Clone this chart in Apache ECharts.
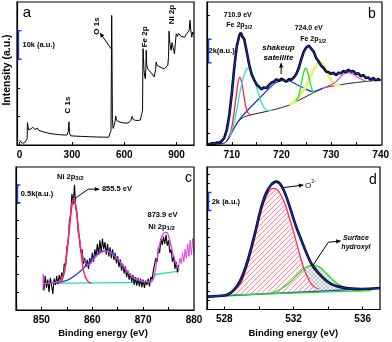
<!DOCTYPE html>
<html><head><meta charset="utf-8">
<script src="https://cdn.jsdelivr.net/npm/echarts@6/dist/echarts.min.js"></script>
<style>html,body{margin:0;padding:0;background:#fff}#c{width:392px;height:342px}</style>
</head><body><div id="c"></div>
<script>
// ---------- Panel a: survey spectrum [binding energy eV, counts (k)] ----------
const surveyCounts = [[0,1.7],[6,1.8],[10,1.3],[15,0.6],[22,0.7],[30,0.9],[38,1.2],[43,2.2],[45,7.8],[48,6.4],[52,5.3],[58,5.0],[64,5.6],[70,5.4],[76,6.2],[80,5.6],[88,5.4],[96,5.5],[102,5.9],[108,5.2],[118,5.0],[135,4.6],[155,4.3],[175,4.0],[200,3.8],[230,3.6],[255,3.5],[272,3.5],[279,4.8],[283,8.1],[286,4.3],[292,3.2],[320,3.1],[360,3.0],[400,2.9],[440,2.8],[480,2.75],[510,2.7],[520,2.8],[524,5.0],[526,25],[528,45.3],[530,30],[532,9],[536,5.8],[542,6.8],[548,8.5],[551,10.1],[556,8.6],[565,8.1],[575,8.0],[590,7.8],[610,7.6],[628,7.9],[638,8.6],[645,10.0],[652,8.9],[665,8.6],[680,8.6],[692,8.7],[700,9.2],[705,12],[707,30],[708,33.7],[710,31],[713,26.5],[717,24.0],[721,23.2],[724,27],[726,33.1],[729,28],[735,26.6],[745,26.1],[755,25.2],[764,24.7],[772,23.8],[777,23.6],[780,26.5],[783,29.0],[788,27.8],[795,27.4],[805,27.3],[817,26.9],[831,26.7],[842,27.3],[850,27.9],[854,31],[857,39.8],[859,37],[863,35.0],[869,33.1],[874,35.8],[879,35.4],[884,33.0],[888,31.9],[893,35.5],[898,38.9],[905,38.0],[912,39.0],[917,39.5],[925,38.0],[935,37.5],[946,37.7],[955,38.6],[965,38.3],[972,40.0],[977,43.6],[981,40.5],[987,37.7],[993,39.5],[1000,38.8]];
const surveyTickValues = [0,300,600,900];
const surveyYTicks = [10,20,30,40];

// ---------- Panel b: Fe 2p ----------
const feData = [[705.0,0.10],[705.5,0.05],[706.0,0.15],[706.5,0.12],[707.0,0.20],[707.5,0.18],[708.0,0.35],[708.5,0.62],[709.0,1.30],[709.5,2.55],[710.0,4.40],[710.5,6.60],[711.0,8.40],[711.5,9.30],[711.8,9.55],[712.1,9.25],[712.5,9.00],[713.0,7.95],[713.5,6.85],[714.0,6.00],[714.5,5.55],[715.0,5.15],[715.5,4.95],[716.0,4.75],[716.5,4.90],[717.0,4.85],[717.5,5.10],[718.0,5.30],[718.5,5.40],[719.0,5.60],[719.5,5.45],[720.0,5.65],[720.5,5.50],[721.0,5.40],[721.5,5.60],[722.0,5.55],[722.5,5.75],[723.0,6.05],[723.5,6.55],[724.0,7.30],[724.5,7.95],[725.0,8.30],[725.5,8.45],[726.0,8.20],[726.5,7.95],[727.0,7.40],[727.5,7.10],[728.0,6.75],[728.5,6.55],[729.0,6.25],[729.5,6.20],[730.0,6.05],[730.5,6.15],[731.0,5.95],[731.5,6.15],[732.0,6.10],[732.5,6.30],[733.0,6.20],[733.5,6.40],[734.0,6.25],[734.5,6.30],[735.0,6.05],[735.5,6.10],[736.0,5.85],[736.5,5.95],[737.0,5.70],[737.5,5.75],[738.0,5.55],[738.5,5.70],[739.0,5.50],[739.5,5.60],[740.0,5.50]];
const feEnvelope = [[705,0.08],[705.3,0.085],[706.5,0.12],[707.6,0.2],[708.6,0.71],[709.27,1.84],[709.93,4.11],[710.6,6.95],[711.27,8.94],[711.93,9.42],[712.6,8.79],[713.27,7.38],[713.93,6.1],[714.93,5.25],[715.93,4.82],[716.93,4.91],[717.93,5.25],[718.93,5.53],[719.93,5.53],[720.93,5.47],[721.93,5.53],[722.93,5.96],[723.6,6.67],[724.27,7.66],[724.93,8.23],[725.47,8.37],[726.27,8.09],[726.93,7.52],[727.93,6.81],[728.93,6.33],[729.93,6.1],[730.93,6.04],[732.27,6.16],[733.6,6.3],[734.93,6.16],[736.27,5.87],[737.6,5.67],[738.93,5.59],[740,5.53]];
const feBackground = [[705,0.05],[707,0.08],[708.27,0.14],[708.93,0.28],[709.6,0.71],[710.27,1.28],[710.93,1.79],[711.6,2.13],[712.6,2.41],[714.27,2.61],[718.27,2.98],[721.6,3.4],[723.6,3.83],[726.27,4.4],[728.27,4.82],[731.6,5.11],[734.93,5.31],[740,5.53]];
const feRed = [[709.3,0.6],[709.9,1.3],[710.4,2.6],[710.9,4.2],[711.3,5.4],[711.6,5.76],[712.0,5.3],[712.4,4.3],[712.8,3.3],[713.3,2.7],[713.9,2.55]];
const feCyan = [[709.6,0.71],[710.3,1.6],[711.0,3.0],[711.6,4.4],[712.3,5.7],[712.9,6.4],[713.3,6.53],[713.9,6.3],[714.6,5.5],[715.3,4.5],[716.0,3.6],[716.9,3.0],[718.0,2.95]];
const feSatellite = [[708.9,0.28],[710.3,1.3],[711.6,2.2],[713.3,3.0],[714.9,3.7],[716.3,4.3],[717.6,4.85],[718.9,5.3],[720.3,5.5],[721.6,5.45],[723.0,5.15],[724.5,4.85],[726.3,4.55],[728.3,4.82]];
const feGreen = [[722.9,3.75],[723.5,4.2],[724.0,5.2],[724.5,6.2],[724.9,6.53],[725.3,6.2],[725.8,5.3],[726.3,4.6],[726.9,4.45]];
const feYellow = [[721.6,3.4],[722.9,3.8],[723.9,4.3],[724.9,5.0],[725.9,5.9],[726.9,6.7],[727.6,7.09],[728.3,6.9],[729.0,6.3],[729.9,5.6],[730.9,5.1],[731.9,5.1]];
const feMagenta = [[728.3,4.82],[729.6,5.05],[730.9,5.35],[732.3,5.95],[733.3,6.16],[734.3,6.05],[735.6,5.7],[736.9,5.45]];
const feTickValues = [705,710,715,720,725,730,735];
const feLabelValues = [710,720,730,740];
const feYTicks = [1,3,5,7,9,11];

// ---------- Panel c: Ni 2p ----------
const niData = [[850.50,0.55],[850.75,0.95],[851.00,0.62],[851.25,0.85],[851.50,0.50],[851.75,0.90],[852.00,0.68],[852.25,0.45],[852.50,0.88],[852.75,0.70],[853.00,0.95],[853.25,0.72],[853.50,0.98],[853.75,0.80],[854.00,1.05],[854.25,0.92],[854.50,1.30],[854.75,1.22],[855.00,1.75],[855.25,1.90],[855.50,2.50],[855.75,2.70],[856.00,3.25],[856.25,2.95],[856.50,3.50],[856.75,2.85],[857.00,2.70],[857.25,2.15],[857.50,2.00],[857.75,1.60],[858.00,1.70],[858.25,1.30],[858.50,1.45],[858.75,1.20],[859.00,1.40],[859.25,1.15],[859.50,1.45],[859.75,1.30],[860.00,1.60],[860.25,1.35],[860.50,1.70],[860.75,1.50],[861.00,1.85],[861.25,1.55],[861.50,1.95],[861.75,1.60],[862.00,2.00],[862.25,1.70],[862.50,1.90],[862.75,1.55],[863.00,1.85],[863.25,1.50],[863.50,1.75],[863.75,1.45],[864.00,1.70],[864.25,1.40],[864.50,1.60],[864.75,1.30],[865.00,1.50],[865.25,1.20],[865.50,1.42],[865.75,1.10],[866.00,1.30],[866.25,1.02],[866.50,1.22],[866.75,0.92],[867.00,1.10],[867.25,0.85],[867.50,1.02],[867.75,0.78],[868.00,0.98],[868.25,0.70],[868.50,0.92],[868.75,0.68],[869.00,0.90],[869.25,0.66],[869.50,0.88],[869.75,0.64],[870.00,0.85],[870.25,0.62],[870.50,0.82],[870.75,0.70],[871.00,0.88],[871.25,0.66],[871.50,0.92],[871.75,0.85],[872.00,1.10],[872.25,1.05],[872.50,1.45],[872.75,1.35],[873.00,1.75],[873.25,1.60],[873.50,2.00],[873.75,1.82],[874.00,2.05],[874.25,1.85],[874.50,2.10],[874.75,1.80],[875.00,1.95],[875.25,1.60],[875.50,1.70],[875.75,1.35],[876.00,1.50],[876.25,1.15],[876.50,1.35],[876.75,1.05],[877.00,1.25]];
const niTailLeft = [[850.3,0.55],[850.35,1.0],[850.4,0.6],[850.45,0.95],[850.5,0.75]];
const niTailRight = [[877.0,1.25],[877.25,1.45],[877.5,1.3],[877.75,1.6],[878.0,1.35],[878.25,1.7],[878.5,1.45],[878.75,1.85],[879.0,1.5],[879.25,1.95],[879.5,1.55],[879.75,2.0],[880.0,1.6]];
const niEnvelope = [[850.47,0.745],[851.8,0.745],[853.13,0.79],[853.8,0.838],[854.47,1.07],[855.0,1.63],[855.47,2.28],[855.93,2.89],[856.33,3.12],[856.8,2.89],[857.27,2.28],[857.8,1.68],[858.47,1.35],[859.27,1.26],[860.13,1.40],[861.13,1.55],[862.13,1.63],[862.8,1.65],[863.8,1.58],[865.13,1.40],[866.47,1.16],[867.8,0.93],[869.13,0.838],[870.47,0.79],[871.47,0.79],[872.13,0.93],[872.8,1.49],[873.47,1.96],[874.13,2.16],[874.6,2.17],[875.13,2.0],[875.8,1.61],[876.47,1.30],[877.13,1.12]];
const niRed = [[853.8,0.745],[854.47,1.02],[855.0,1.58],[855.47,2.23],[855.93,2.84],[856.33,3.07],[856.8,2.84],[857.27,2.23],[857.8,1.58],[858.33,1.07],[859.0,0.82],[859.8,0.745]];
const niSatellite = [[851.8,0.745],[855.13,0.838],[857.13,1.02],[859.13,1.30],[860.8,1.55],[862.13,1.65],[863.13,1.65],[864.47,1.52],[865.8,1.27],[867.13,1.02],[868.47,0.87],[870.13,0.77]];
const niBaseline = [[850.47,0.745],[871.47,0.77],[872.47,0.996],[877.13,1.09]];
const niTickValues = [850,855,860,865,870,875];
const niLabelValues = [850,860,870,880];
const niYTicks = [0.5,1,1.5,2,2.5,3,3.5];

// ---------- Panel d: O 1s ----------
const oEnvelope = [[527,1.42],[527.08,1.43],[528.12,1.61],[528.5,2.06],[528.89,3.1],[529.27,4.94],[529.55,6.8],[529.84,9.02],[530.12,11.24],[530.41,12.9],[530.7,13.83],[531.02,14.2],[531.27,13.83],[531.55,12.72],[531.84,11.06],[532.12,9.39],[532.41,7.91],[532.7,6.5],[533.08,4.94],[533.46,4.02],[533.84,3.28],[534.22,2.8],[534.6,2.54],[535.17,2.35],[535.93,2.28],[537,2.38]];
const oLattice = [[528.31,1.69],[528.89,2.72],[529.27,4.57],[529.55,6.43],[529.84,8.65],[530.12,10.87],[530.41,12.54],[530.7,13.39],[530.89,13.46],[531.13,13.17],[531.46,11.98],[531.74,10.31],[532.03,8.46],[532.31,6.43],[532.6,4.57],[532.89,3.28],[533.17,2.54],[533.46,2.28]];
const oHydroxyl = [[530.6,1.78],[531.17,2.17],[531.74,2.91],[532.31,4.02],[532.7,4.65],[533.08,4.94],[533.46,4.76],[533.84,4.13],[534.22,3.39],[534.6,2.8],[535.08,2.35],[535.55,2.13],[535.93,2.06]];
const oBackgroundBlue = [[527,1.42],[537,2.38]];
const oBackgroundGreen = [[528.2,1.6],[536.5,2.1]];
const oTickValues = [528,530,532,534,536];
const oLabelValues = [528,532,536];
const oYTicks = [1,2,3,4,5,6,7,8,9,10,11,12,13,14,15];

// ---------- layout ----------
const FAM = '"Liberation Sans", Arial, sans-serif';
const G = [
  {left:17, top:2, width:177, height:143},
  {left:207, top:2, width:175, height:143},
  {left:16, top:167, width:178, height:143},
  {left:207, top:167, width:173, height:142.5}
];
const xRanges = [[-15,1000],[705,740],[845,880],[527,537]];
const yRanges = [[0,50],[0,12.17],[0,4],[0,15.83]];
const xTicks = [surveyTickValues, feTickValues, niTickValues, oTickValues];
const xLabels = [surveyTickValues, feLabelValues, niLabelValues, oLabelValues];
const yTicks = [surveyYTicks, feYTicks, niYTicks, oYTicks];

function pattern(size, bg, stroke, lw, cross) {
  const c = document.createElement('canvas'); c.width = c.height = size;
  const x = c.getContext('2d');
  x.fillStyle = bg; x.fillRect(0,0,size,size);
  x.strokeStyle = stroke; x.lineWidth = lw;
  x.beginPath();
  x.moveTo(0,size); x.lineTo(size,0);
  x.moveTo(-size/2,size/2); x.lineTo(size/2,-size/2);
  x.moveTo(size/2,size*1.5); x.lineTo(size*1.5,size/2);
  if (cross) {
    x.moveTo(0,0); x.lineTo(size,size);
    x.moveTo(-size/2,size/2); x.lineTo(size/2,size*1.5);
    x.moveTo(size/2,-size/2); x.lineTo(size*1.5,size/2);
  }
  x.stroke();
  return c;
}
const redPat = pattern(5, '#fff8f9', '#ff7a92', 0.9, false);
const greyPat = pattern(4, '#f2f5f5', '#9fb1b0', 0.7, true);

const xAxis = G.map((g,i) => ({
  type:'value', gridIndex:i, min:xRanges[i][0], max:xRanges[i][1], z:5,
  axisLine:{show:true, onZero:false, lineStyle:{color:'#000', width:1.2}},
  axisTick:{show:true, inside:true, length:3, customValues:xTicks[i], lineStyle:{color:'#000', width:1}},
  axisLabel:{show:true, customValues:xLabels[i], margin:5, color:'#000', fontSize:10, fontWeight:'bold', fontFamily:FAM, showMinLabel:true, showMaxLabel:true},
  splitLine:{show:false}
}));
const yAxis = G.map((g,i) => ({
  type:'value', gridIndex:i, min:yRanges[i][0], max:yRanges[i][1], z:5,
  axisLine:{show:true, onZero:false, lineStyle:{color:'#000', width:1.2}},
  axisTick:{show:true, inside:true, length:3, customValues:yTicks[i], lineStyle:{color:'#000', width:1}},
  axisLabel:{show:false},
  splitLine:{show:false}
}));

function ln(g, data, color, width, extra) {
  return Object.assign({
    type:'line', xAxisIndex:g, yAxisIndex:g, data:data, symbol:'none', showSymbol:false,
    lineStyle:{color:color, width:width}, itemStyle:{color:color}, silent:true, animation:false
  }, extra || {});
}
const S = {smooth:0.35};

const series = [
  // a
  ln(0, surveyCounts, '#000', 1),
  // b
  ln(1, feBackground, '#222', 1, S),
  ln(1, feSatellite, '#2233c8', 1.2, S),
  ln(1, feYellow, '#e9f27e', 3, S),
  ln(1, feMagenta, '#e040e0', 1.2, S),
  ln(1, feRed, '#ff2050', 1.3, S),
  ln(1, feCyan, '#28e6c4', 1.3, S),
  ln(1, feGreen, '#22e022', 1.3, S),
  ln(1, feData, '#000', 2.6),
  ln(1, feEnvelope, '#1a2bb0', 1.2, S),
  // c
  ln(2, niBaseline, '#22e0a8', 1.3),
  ln(2, niTailLeft, '#e040e0', 1),
  ln(2, niTailRight, '#e040e0', 1),
  ln(2, niData, '#000', 1.1),
  ln(2, niSatellite, '#2a40d8', 1.3, S),
  ln(2, niEnvelope, '#e040e0', 1.3, S),
  ln(2, niRed, '#ff2050', 1.3, S),
  // d
  ln(3, oHydroxyl, '#22e022', 1.3, Object.assign({areaStyle:{color:{image:greyPat, repeat:'repeat'}, opacity:1}}, S)),
  ln(3, oLattice, '#ff2a55', 1.3, Object.assign({areaStyle:{color:{image:redPat, repeat:'repeat'}, opacity:1}}, S)),
  ln(3, oBackgroundBlue, '#2a3fd0', 1.4, {areaStyle:{color:'#fff', opacity:1}}),
  ln(3, oBackgroundGreen, '#22e022', 1.2),
  ln(3, oEnvelope, '#000', 2.6, S),
  ln(3, oEnvelope, '#1a2bb0', 1.3, S)
];

const chart = echarts.init(document.getElementById('c'), null, {renderer:'canvas', width:392, height:342});
chart.setOption({animation:false, grid:G.map(g => Object.assign({containLabel:false}, g)), xAxis:xAxis, yAxis:yAxis, series:series});

// ---------- annotations ----------
const P = (g,x,y) => chart.convertToPixel({gridIndex:g}, [x,y]);
const mctx = document.createElement('canvas').getContext('2d');
function tw(s, font) { mctx.font = font; return mctx.measureText(s).width; }
function F(size, w, it) { return (it ? 'italic ' : '') + (w || '') + ' ' + size + 'px ' + FAM; }
function T(x, y, text, font, opt) {
  opt = opt || {};
  const al = opt.align || 'center', va = opt.va || 'middle';
  return {type:'text', x:x, y:y, rotation:opt.rot || 0, z:100, silent:true,
    style:{text:text, font:font, fill:opt.fill || '#000', textAlign:al, textVerticalAlign:va, align:al, verticalAlign:va}};
}
function comp(x, y, parts, center) {
  const widths = parts.map(p => tw(p.t, p.f));
  const total = widths.reduce((a,b) => a+b, 0);
  let cx = center ? x - total/2 : x;
  return parts.map((p,i) => { const e = T(cx, y + (p.dy || 0), p.t, p.f, {align:'left'}); cx += widths[i]; return e; });
}
function arrow(pts, color) {
  const els = [{type:'polyline', z:100, silent:true, shape:{points:pts}, style:{stroke:color, lineWidth:1, fill:'none'}}];
  const a = pts[pts.length-1], b = pts[pts.length-2];
  let dx = a[0]-b[0], dy = a[1]-b[1]; const L = Math.hypot(dx,dy) || 1; dx /= L; dy /= L;
  const s = 4.5, w = 2.2, bx = a[0]-dx*s, by = a[1]-dy*s;
  els.push({type:'polygon', z:100, silent:true, shape:{points:[[a[0],a[1]],[bx-dy*w,by+dx*w],[bx+dy*w,by-dx*w]]}, style:{fill:color}});
  return els;
}
function bracket(g, y1, y2, text, off) {
  const a = P(g, xRanges[g][0], y1), b = P(g, xRanges[g][0], y2);
  const X = a[0] + 1.5;
  return [
    {type:'polyline', z:100, silent:true, shape:{points:[[X+3,a[1]],[X,a[1]],[X,b[1]],[X+3,b[1]]]}, style:{stroke:'#1f3fcf', lineWidth:1.4, fill:'none'}},
    T(a[0] + off, (a[1]+b[1])/2, text, F(7.5,'bold'), {align:'left'})
  ];
}

let els = [];
G.forEach(g => els.push({type:'rect', z:101, silent:true, shape:{x:g.left, y:g.top, width:g.width, height:g.height}, style:{fill:'none', stroke:'#000', lineWidth:1.2}}));
els.push(T(27, 12.5, 'a', F(15)));
els.push(T(372, 14, 'b', F(14)));
els.push(T(188.5, 178, 'c', F(14)));
els.push(T(373, 180, 'd', F(14)));
els.push(T(7, 70, 'Intensity (a.u.)', F(10.5,'bold'), {rot:Math.PI/2}));
els.push(T(103, 333.5, 'Binding energy (eV)', F(9.5,'bold')));
els.push(T(293.3, 333.3, 'Binding energy (eV)', F(9.5,'bold')));
els = els.concat(bracket(0, 30, 40, '10k (a.u.)', 5.5));
els = els.concat(bracket(1, 7, 9, '2k(a.u.)', 1.5));
els = els.concat(bracket(2, 3.0, 3.5, '0.5k(a.u.)', 4.7));
els = els.concat(bracket(3, 11, 13, '2k (a.u.)', 4.7));

const fa = F(8,'bold');
let p;
p = P(0,277,14); els.push(T(p[0], p[1], 'C 1s', fa, {rot:Math.PI/2}));
p = P(0,444,41.6); els.push(T(p[0], p[1], 'O 1s', fa, {rot:Math.PI/2}));
els = els.concat(arrow([P(0,530,33.2), P(0,461,39.2)], '#000'));
p = P(0,719,37.8); els.push(T(p[0], p[1], 'Fe 2p', fa, {rot:Math.PI/2}));
p = P(0,872,45.6); els.push(T(p[0], p[1], 'Ni 2p', fa, {rot:Math.PI/2}));

const fb = F(7,'bold'), fbs = F(5.5,'bold');
p = P(1,711.2,11.06); els.push(T(p[0], p[1], '710.9 eV', fb));
p = P(1,711.5,10.2); els = els.concat(comp(p[0], p[1], [{t:'Fe 2p', f:fb}, {t:'3/2', f:fbs, dy:2}], true));
p = P(1,725.5,9.96); els.push(T(p[0], p[1], '724.0 eV', fb));
p = P(1,726.4,9.02); els = els.concat(comp(p[0], p[1], [{t:'Fe 2p', f:fb}, {t:'1/2', f:fbs, dy:2}], true));
p = P(1,719.4,8.23); els.push(T(p[0], p[1], 'shakeup', F(8,'bold',true)));
p = P(1,719.4,7.38); els.push(T(p[0], p[1], 'satellite', F(8,'bold',true)));
els = els.concat(arrow([P(1,719.94,6.04), P(1,719.94,6.98)], '#000'));

const fc = F(7.5,'bold'), fcs = F(6,'bold');
p = P(2,853.06,3.73); els = els.concat(comp(p[0], p[1], [{t:'Ni 2p', f:fc}, {t:'3/2', f:fcs, dy:2}], false));
els = els.concat(arrow([P(2,856.6,3.12), P(2,859.2,3.38), P(2,861.4,3.38)], '#000'));
p = P(2,861.9,3.40); els.push(T(p[0], p[1], '855.5 eV', fc, {align:'left'}));
p = P(2,873.8,2.66); els.push(T(p[0], p[1], '873.9 eV', fc));
p = P(2,871.0,2.33); els = els.concat(comp(p[0], p[1], [{t:'Ni 2p', f:fc}, {t:'1/2', f:fcs, dy:2}], false));

p = P(3,532.66,13.78); els = els.concat(comp(p[0], p[1], [{t:'O', f:F(8)}, {t:'2-', f:F(5.5), dy:-4}], false));
els = els.concat(arrow([P(3,531.38,13.53), P(3,532.57,13.83)], '#000'));
p = P(3,535.61,7.98); els.push(T(p[0], p[1], 'Surface', F(7,'bold',true)));
p = P(3,535.61,6.98); els.push(T(p[0], p[1], 'hydroxyl', F(7,'bold',true)));
els = els.concat(arrow([P(3,533.14,4.94), P(3,534.01,7.47), P(3,534.73,7.61)], '#000'));

chart.setOption({graphic:{elements:els}});
</script>
</body></html>
